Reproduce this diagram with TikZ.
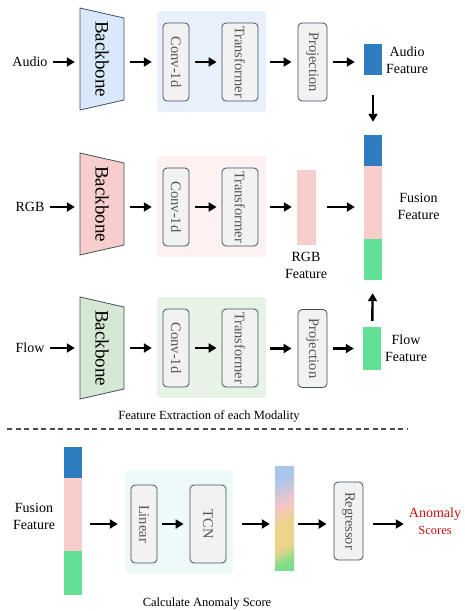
\documentclass[tikz,border=0pt]{standalone}
\usepackage{fontspec}
\setmainfont{Liberation Serif}
\usetikzlibrary{arrows.meta}
\definecolor{audiofill}{HTML}{DAE8FC}
\definecolor{rgbfill}{HTML}{F8CECC}
\definecolor{flowfill}{HTML}{D5E8D4}
\definecolor{audiobg}{HTML}{E8F0FB}
\definecolor{rgbbg}{HTML}{FDF1F1}
\definecolor{flowbg}{HTML}{E8F3E8}
\definecolor{calcbg}{HTML}{EEF9F9}
\definecolor{bbline}{HTML}{43505C}
\definecolor{boxline}{HTML}{3F4F5F}
\definecolor{boxfill}{HTML}{F2F2F2}
\definecolor{boxtext}{HTML}{555555}
\definecolor{audiobar}{HTML}{2E7DC1}
\definecolor{rgbbar}{HTML}{F8CECC}
\definecolor{flowbar}{HTML}{62E096}
\definecolor{scorered}{HTML}{C01010}
\definecolor{gradblue}{HTML}{A8C6EA}
\definecolor{gradpink}{HTML}{F5C6C5}
\definecolor{gradyellow}{HTML}{EED38A}
\definecolor{gradgreen}{HTML}{7EDD8A}
\pgfdeclareverticalshading{featgrad}{100bp}{color(0bp)=(gradgreen); color(23bp)=(gradgreen); color(33bp)=(gradyellow); color(47bp)=(gradyellow); color(58bp)=(gradpink); color(74bp)=(gradblue); color(100bp)=(gradblue)}

\begin{document}
\begin{tikzpicture}[x=1pt, y=-1pt,
    arr/.style={-{Triangle[length=8pt,width=9pt]}, line width=2.4pt, shorten <=5pt, shorten >=5pt},
    vtext/.style={rotate=-90, font=\fontsize{14.5}{16}\selectfont, text=boxtext},
    blk/.style={draw=boxline, fill=boxfill, rounded corners=4pt, line width=0.8pt, minimum width=26pt, minimum height=78pt, inner sep=0pt, label={[vtext]center:#1}},
    area/.style={rounded corners=3pt, minimum width=109pt, minimum height=101pt, inner sep=0pt},
    bar/.style={minimum width=18pt, inner sep=0pt},
    lbl/.style={font=\fontsize{14}{17}\selectfont, align=center, inner sep=0pt},
    captxt/.style={font=\fontsize{12.5}{14}\selectfont, inner sep=0pt}]
  \useasboundingbox (0,0) rectangle (464,611);
  % one branch per modality
  \foreach \n/\y/\by/\bg/\bf in {Audio/62/59/audiobg/audiofill, RGB/207/204/rgbbg/rgbfill, Flow/348/348/flowbg/flowfill} {
    \node[lbl] (in\n) at (30,\y) {\n};
    \draw[line width=0.8pt, draw=bbline, fill=\bf] (80,\by-51) -- (124,\by-41) -- (124,\by+41) -- (80,\by+51) -- cycle;
    \node[minimum width=44pt, minimum height=102pt, inner sep=0pt, label={[rotate=-90, font=\fontsize{19}{20}\selectfont]center:Backbone}] (bb\n) at (102,\by) {};
    \node[area, fill=\bg] (ext\n) at (211.5,\y-0.5) {};
    \node[blk=Conv-1d] (conv\n) at (176,\y) {};
    \node[blk=Transformer, minimum width=36pt] (tf\n) at (240,\y) {};
    \draw[arr] (in\n.east) -- (in\n.east -| bb\n.west);
    \draw[arr, shorten <=6pt] (bb\n.east |- conv\n) -- (ext\n.west |- conv\n);
    \draw[arr, shorten <=6pt] (conv\n) -- (tf\n);
  }
  % audio
  \node[blk=Projection, minimum width=29pt] (projAudio) at (312.5,62) {};
  \node[bar, fill=audiobar, minimum height=31pt] (featAudio) at (373,59.5) {};
  \node[lbl] (featAudioTxt) at (407,60) {Audio\\Feature};
  \draw[arr, shorten <=4pt, shorten >=6pt] (extAudio.east |- projAudio) -- (projAudio);
  \draw[arr, shorten <=6pt, shorten >=9pt] (projAudio) -- (featAudio.west |- projAudio);
  % rgb
  \node[bar, fill=rgbbar, minimum width=19pt, minimum height=75pt] (featRGB) at (306.5,207.5) {};
  \node[lbl] (featRGBTxt) at (306,265) {RGB\\Feature};
  \draw[arr, shorten <=4pt] (extRGB.east |- tfRGB) -- (featRGB.west |- tfRGB);
  % fusion
  \node[bar, fill=audiobar, minimum height=31pt] (fuseB) at (373,150.5) {};
  \node[bar, fill=rgbbar, minimum height=73pt] (fuseP) at (373,202.5) {};
  \node[bar, fill=flowbar, minimum height=41pt] (fuseG) at (373,259.5) {};
  \node[lbl] (fuseTxt) at (418.5,206) {Fusion\\Feature};
  \draw[arr, shorten <=11pt, shorten >=9pt] (featRGB.east |- tfRGB) -- (fuseP.west |- tfRGB);
  % flow
  \node[blk=Projection, minimum width=29pt] (projFlow) at (312.5,348.5) {};
  \node[bar, fill=flowbar, minimum height=43pt] (featFlow) at (372,348.5) {};
  \node[lbl] (featFlowTxt) at (406,348) {Flow\\Feature};
  \draw[arr, shorten <=4pt, shorten >=6pt] (extFlow.east |- projFlow) -- (projFlow);
  \draw[arr, shorten <=6pt, shorten >=9pt] (projFlow) -- (featFlow);
  \draw[arr, shorten <=20pt, shorten >=13pt] (featAudio) -- (fuseB);
  \draw[arr, shorten <=6pt, shorten >=13pt] (featFlow) -- (fuseG);
  \node[captxt] (capTop) at (209,416) {Feature Extraction of each Modality};
  \draw[black!70, line width=1.1pt, dash pattern=on 5pt off 3.5pt] (7,429) -- (407,429);
  % anomaly score
  \node[bar, fill=audiobar, minimum height=31pt] (fbB) at (73,462.5) {};
  \node[bar, fill=rgbbar, minimum height=73pt] (fbP) at (73,514.5) {};
  \node[bar, fill=flowbar, minimum height=44pt] (fbG) at (73,573) {};
  \node[lbl] (fbTxt) at (34,516) {Fusion\\Feature};
  \node[area, fill=calcbg, minimum width=108pt, minimum height=103pt] (calc) at (179,521.5) {};
  \node[blk=Linear] (lin) at (144,524) {};
  \node[blk=TCN, minimum width=36pt] (tcn) at (208,524) {};
  \node[bar, minimum width=19pt, minimum height=104pt, shading=featgrad, shading angle=25] (grad) at (284.5,518) {};
  \node[blk=Regressor, minimum width=29pt] (reg) at (348.5,521) {};
  \node[lbl, text=scorered] (score) at (435,521) {Anomaly\\{\fontsize{12.5}{14}\selectfont Scores}};
  \draw[arr, shorten <=8pt, shorten >=7pt] (fbP.east |- lin) -- (calc.west |- lin);
  \draw[arr, shorten >=6pt] (lin) -- (tcn);
  \draw[arr, shorten <=9pt] (calc.east |- lin) -- (grad.west |- lin);
  \draw[arr, shorten <=4pt, shorten >=7pt] (grad.east |- lin) -- (reg.west |- lin);
  \draw[arr, shorten <=10pt] (reg.east |- lin) -- (score.west |- lin);
  \node[captxt] (capBot) at (207,604) {Calculate Anomaly Score};
\end{tikzpicture}
\end{document}
